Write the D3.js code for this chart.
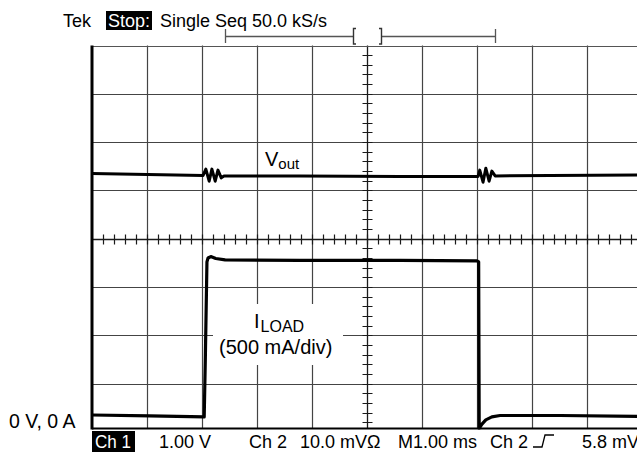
<!DOCTYPE html>
<html>
<head>
<meta charset="utf-8">
<script src="https://cdn.jsdelivr.net/npm/d3@7"></script>
<style>
  html, body { margin: 0; padding: 0; background: #fff; }
  svg { display: block; font-family: "Liberation Sans", Arial, sans-serif; }
</style>
</head>
<body>
<svg id="chart" width="637" height="452"></svg>
<script>
// ---- Data (time in ms, M1.00 ms/div; amplitude in graticule divisions) ----
const voutTime = [0, 2.02, 2.07, 2.13, 2.18, 2.24, 2.29, 2.35, 2.40, 3.78, 5.6, 7.02, 7.05, 7.11, 7.16, 7.22, 7.27, 7.33, 8.33, 10];
const voutDiv  = [1.35, 1.31, 1.44, 1.19, 1.44, 1.19, 1.42, 1.26, 1.30, 1.30, 1.29, 1.29, 1.42, 1.17, 1.46, 1.19, 1.40, 1.30, 1.31, 1.32];

const iloadTime = [0, 1.05, 2.04, 2.06, 2.09, 2.11, 2.16, 2.25, 2.42, 3.78, 5.6, 7.0, 7.03, 7.04, 7.09, 7.16, 7.27, 7.42, 8.51, 10];
const iloadDiv  = [-3.65, -3.67, -3.69, -2.52, -0.48, -0.40, -0.37, -0.41, -0.44, -0.45, -0.45, -0.46, -0.48, -3.93, -3.84, -3.75, -3.69, -3.66, -3.66, -3.68];

const xDivisions = d3.range(0, 11);      // 10 horizontal divisions
const yDivisions = d3.range(-4, 5);      // 8 vertical divisions
const minorStep = 0.2;

const headerLabels = ["Tek", "Stop:", "Single Seq 50.0 kS/s"];
const footerLabels = ["Ch 1", "1.00 V", "Ch 2", "10.0 mV\u03A9", "M1.00 ms", "Ch 2", "5.8 mV"];
const groundLabel = "0 V, 0 A";

// ---- Scales ----
const W = 637, H = 452;
const x = d3.scaleLinear().domain([0, 10]).range([92, 642]);
const y = d3.scaleLinear().domain([-4, 4]).range([431.9, 45.5]);
const gridBottom = 428.5;

const svg = d3.select("#chart");
const gridColor = "#444";

svg.append("defs").append("clipPath").attr("id", "plotClip")
  .append("rect").attr("x", x(0)).attr("y", y(4) - 1).attr("width", x(10) - x(0)).attr("height", gridBottom - y(4) + 2);

const grid = svg.append("g").attr("clip-path", "url(#plotClip)");

grid.selectAll("line.vx").data(xDivisions.filter(d => d > 0 && d < 10 && d !== 5)).enter().append("line")
  .attr("x1", d => Math.round(x(d)) + 0.5).attr("x2", d => Math.round(x(d)) + 0.5)
  .attr("y1", y(4)).attr("y2", gridBottom)
  .attr("stroke", gridColor).attr("stroke-width", 1.2);

grid.selectAll("line.hy").data(yDivisions.filter(d => d > -4 && d < 4 && d !== 0)).enter().append("line")
  .attr("x1", x(0)).attr("x2", x(10))
  .attr("y1", d => Math.round(y(d)) + 0.5).attr("y2", d => Math.round(y(d)) + 0.5)
  .attr("stroke", gridColor).attr("stroke-width", 1.2);

// label knock-out for I_LOAD
svg.append("rect").attr("x", 213).attr("y", 304).attr("width", 130).attr("height", 61).attr("fill", "#fff");

const cx = Math.round(x(5)) + 0.5, cy = Math.round(y(0)) + 0.5;
grid.append("line").attr("x1", cx).attr("x2", cx).attr("y1", y(4)).attr("y2", gridBottom)
  .attr("stroke", "#1a1a1a").attr("stroke-width", 1.3);
grid.append("line").attr("x1", x(0)).attr("x2", x(10)).attr("y1", cy).attr("y2", cy)
  .attr("stroke", "#1a1a1a").attr("stroke-width", 1.3);

const xMinor = d3.range(0, 10 + 1e-9, minorStep).filter(d => d > 0);
grid.selectAll("line.tx").data(xMinor).enter().append("line")
  .attr("x1", d => Math.round(x(d)) + 0.5).attr("x2", d => Math.round(x(d)) + 0.5)
  .attr("y1", cy - 5).attr("y2", cy + 5)
  .attr("stroke", "#1a1a1a").attr("stroke-width", 1.2);
const yMinor = d3.range(-4, 4 + 1e-9, minorStep);
grid.selectAll("line.ty").data(yMinor).enter().append("line")
  .attr("x1", cx - 5).attr("x2", cx + 5)
  .attr("y1", d => Math.round(y(d)) + 0.5).attr("y2", d => Math.round(y(d)) + 0.5)
  .attr("stroke", "#1a1a1a").attr("stroke-width", 1.2);

// borders
svg.append("line").attr("x1", x(0)).attr("x2", W).attr("y1", Math.round(y(4)) + 0.5).attr("y2", Math.round(y(4)) + 0.5)
  .attr("stroke", "#555").attr("stroke-width", 1.2);
svg.append("line").attr("x1", x(0)).attr("x2", W).attr("y1", gridBottom).attr("y2", gridBottom)
  .attr("stroke", "#000").attr("stroke-width", 2);
svg.append("line").attr("x1", x(0)).attr("x2", x(0)).attr("y1", y(4)).attr("y2", gridBottom + 1)
  .attr("stroke", "#000").attr("stroke-width", 3);

// traces
const traceLine = d3.line().x(d => x(d[0])).y(d => y(d[1])).curve(d3.curveLinear);
const traces = svg.append("g").attr("clip-path", "url(#plotClip)");
traces.append("path").datum(voutTime.map((t, i) => [t, voutDiv[i]]))
  .attr("d", traceLine).attr("fill", "none").attr("stroke", "#000").attr("stroke-width", 3)
  .attr("stroke-linejoin", "round");
traces.append("path").datum(iloadTime.map((t, i) => [t, iloadDiv[i]]))
  .attr("d", traceLine).attr("fill", "none").attr("stroke", "#000").attr("stroke-width", 3.2)
  .attr("stroke-linejoin", "round");

// trace labels
const vlab = svg.append("text").attr("x", 265).attr("y", 166).attr("font-size", 20);
vlab.append("tspan").text("V");
vlab.append("tspan").attr("font-size", 15).attr("dy", 3).text("out");

const ilab = svg.append("text").attr("x", 254).attr("y", 328).attr("font-size", 20);
ilab.append("tspan").text("I");
ilab.append("tspan").attr("font-size", 16).attr("dy", 4).attr("dx", 1).text("LOAD");
svg.append("text").attr("x", 219).attr("y", 354).attr("font-size", 20).text("(500 mA/div)");

svg.append("text").attr("x", 9).attr("y", 428).attr("font-size", 19.5).text(groundLabel);

// header
svg.append("text").attr("x", 63).attr("y", 27).attr("font-size", 18).text(headerLabels[0]);
svg.append("rect").attr("x", 106).attr("y", 11).attr("width", 46).attr("height", 19).attr("fill", "#000");
svg.append("text").attr("x", 108).attr("y", 27).attr("font-size", 18).attr("fill", "#fff").text(headerLabels[1]);
svg.append("text").attr("x", 160).attr("y", 27).attr("font-size", 18).text(headerLabels[2]);

// record-length bracket
const bc = "#555";
svg.append("line").attr("x1", 225).attr("x2", 353).attr("y1", 36.5).attr("y2", 36.5).attr("stroke", bc).attr("stroke-width", 1.3);
svg.append("line").attr("x1", 382).attr("x2", 495).attr("y1", 36.5).attr("y2", 36.5).attr("stroke", bc).attr("stroke-width", 1.3);
svg.append("line").attr("x1", 225.5).attr("x2", 225.5).attr("y1", 29).attr("y2", 43).attr("stroke", bc).attr("stroke-width", 1.3);
svg.append("line").attr("x1", 495.5).attr("x2", 495.5).attr("y1", 29).attr("y2", 43).attr("stroke", bc).attr("stroke-width", 1.3);
svg.append("path").attr("d", "M356,28.5 H353.5 V44 H356").attr("fill", "none").attr("stroke", "#333").attr("stroke-width", 1.4);
svg.append("path").attr("d", "M379,28.5 H381.5 V44 H379").attr("fill", "none").attr("stroke", "#333").attr("stroke-width", 1.4);

// footer
svg.append("rect").attr("x", 92).attr("y", 431).attr("width", 43).attr("height", 21).attr("fill", "#000");
const footX = [95, 159, 249, 300, 398, 490, 582];
footerLabels.forEach((t, i) => {
  const tx = svg.append("text").attr("x", footX[i]).attr("y", 448).attr("font-size", 18)
    .attr("fill", i === 0 ? "#fff" : "#000").text(t);
  if (i === 0) tx.attr("textLength", 36).attr("lengthAdjust", "spacingAndGlyphs");
});
// trigger slope symbol
svg.append("path").attr("d", "M533,447 H542 L545,435 H554").attr("fill", "none").attr("stroke", "#000").attr("stroke-width", 1.3);
</script>
</body>
</html>
